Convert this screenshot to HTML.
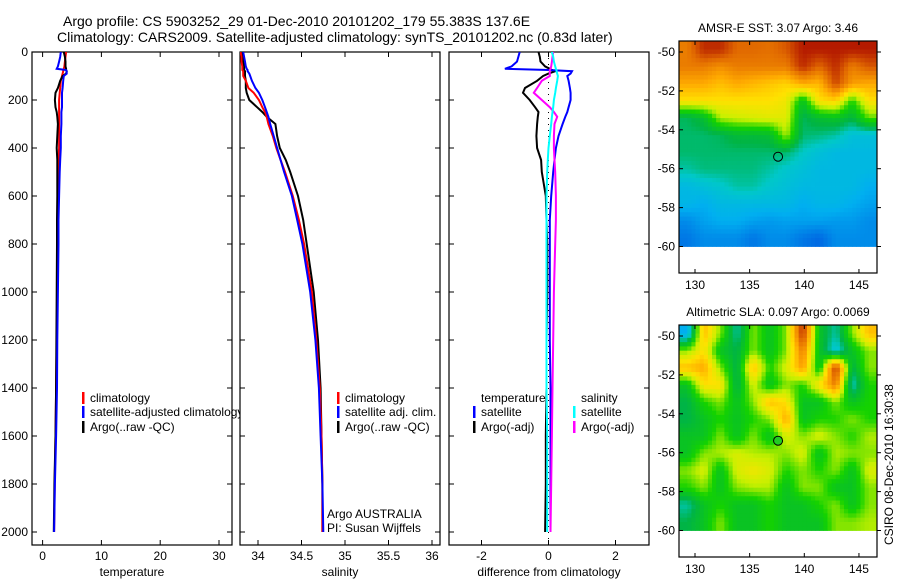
<!DOCTYPE html>
<html><head><meta charset="utf-8"><style>
html,body{margin:0;padding:0;background:#fff;}
svg{display:block;font-family:"Liberation Sans",sans-serif;}
text{font-size:12px;fill:#000;}
</style></head><body>
<svg id="c" width="900" height="580" viewBox="0 0 900 580" xmlns="http://www.w3.org/2000/svg">
<text x="63" y="26" style="font-size:14px">Argo profile: CS 5903252_29 01-Dec-2010 20101202_179 55.383S 137.6E</text>
<text x="57" y="42" style="font-size:14px">Climatology: CARS2009. Satellite-adjusted climatology: synTS_20101202.nc (0.83d later)</text>
</svg>
<script>
// ---- data ----
const depths=[0,20,40,60,70,75,80,90,100,120,150,170,200,230,250,270,300,350,400,450,500,600,700,800,1000,1200,1400,1600,1800,2000];
const tempClim=[4.0,3.9,3.8,3.7,3.6,3.5,3.5,3.4,3.3,3.1,3.0,2.9,2.8,2.8,2.8,2.8,2.8,2.8,2.8,2.7,2.7,2.6,2.6,2.6,2.5,2.4,2.3,2.2,2.05,1.95];
const tempSat=[3.1,3.0,2.8,2.6,2.4,4.0,4.1,4.1,3.6,3.5,3.4,3.3,3.3,3.3,3.2,3.2,3.2,3.1,3.1,3.0,2.9,2.8,2.7,2.7,2.6,2.5,2.45,2.3,2.1,1.95];
const tempArgo=[3.6,3.8,3.9,3.9,4.0,4.0,4.1,4.0,3.4,3.0,2.6,2.2,2.1,2.2,2.4,2.5,2.6,2.5,2.4,2.5,2.5,2.5,2.45,2.45,2.4,2.35,2.3,2.2,2.0,1.9];
const salClim=[33.80,33.81,33.81,33.82,33.82,33.82,33.83,33.83,33.83,33.86,33.89,33.95,34.01,34.05,34.08,34.10,34.12,34.17,34.21,34.26,34.31,34.40,34.47,34.53,34.62,34.67,34.71,34.73,34.74,34.74];
const salSat=[33.83,33.84,33.85,33.86,33.87,33.88,33.88,33.90,33.91,33.93,33.97,34.01,34.05,34.08,34.10,34.12,34.14,34.18,34.22,34.26,34.30,34.39,34.45,34.51,34.60,34.66,34.70,34.72,34.74,34.75];
const salArgo=[33.82,33.83,33.83,33.84,33.84,33.84,33.85,33.85,33.85,33.86,33.86,33.87,33.90,33.99,34.05,34.10,34.20,34.22,34.25,34.32,34.37,34.46,34.52,34.56,34.64,34.69,34.72,34.73,34.74,34.74];
const diffTempSat=[-0.86,-0.9,-0.94,-1.1,-1.3,0.0,0.7,0.66,0.56,0.6,0.64,0.66,0.66,0.6,0.56,0.5,0.42,0.3,0.22,0.18,0.14,0.08,0.04,0.04,0.04,0.04,0.06,0.06,0.06,0.06];
const diffTempArgo=[-0.3,-0.26,-0.24,-0.1,0.04,0.1,0.2,0.0,-0.16,-0.34,-0.7,-0.76,-0.56,-0.4,-0.3,-0.32,-0.34,-0.36,-0.34,-0.22,-0.2,-0.08,-0.06,-0.04,-0.04,-0.06,-0.06,-0.08,-0.08,-0.1];
const diffSalSat=[0.1,0.14,0.16,0.2,0.22,0.24,0.24,0.26,0.28,0.26,0.22,0.2,0.16,0.14,0.12,0.1,0.08,0.04,0.0,-0.02,-0.04,-0.06,-0.06,-0.06,-0.06,-0.06,-0.06,-0.04,-0.04,-0.04];
const diffSalArgo=[0.14,0.12,0.1,0.08,0.06,0.04,0.04,0.04,0.04,-0.2,-0.34,-0.44,-0.2,0.04,0.16,0.26,0.18,0.16,0.16,0.18,0.2,0.22,0.22,0.2,0.16,0.14,0.12,0.1,0.08,0.06];
const depthTicks=[0,200,400,600,800,1000,1200,1400,1600,1800,2000];
const tempTicks=[0,10,20,30];
const salTicks=[34,34.5,35,35.5,36];
const salTickLabels=["34","34.5","35","35.5","36"];
const diffTicks=[-2,0,2];
const lonTicks=[130,135,140,145];
const latTicks=[-50,-52,-54,-56,-58,-60];
const sstGrid=[
[0.85,0.95,0.95,0.88,0.88,0.87,0.9,0.97,0.97,0.97,0.97,0.97],
[0.85,0.85,0.82,0.85,0.85,0.85,0.85,0.95,0.88,0.95,0.85,0.9],
[0.78,0.78,0.75,0.78,0.76,0.74,0.72,0.78,0.76,0.92,0.8,0.78],
[0.7,0.7,0.7,0.7,0.7,0.7,0.68,0.5,0.7,0.72,0.55,0.7],
[0.44,0.48,0.62,0.64,0.65,0.66,0.66,0.44,0.48,0.5,0.46,0.58],
[0.43,0.43,0.44,0.47,0.47,0.48,0.62,0.43,0.42,0.4,0.35,0.35],
[0.43,0.43,0.43,0.43,0.43,0.43,0.43,0.38,0.35,0.33,0.33,0.33],
[0.4,0.42,0.42,0.42,0.42,0.4,0.37,0.35,0.33,0.33,0.33,0.33],
[0.33,0.35,0.37,0.4,0.4,0.37,0.35,0.33,0.33,0.33,0.33,0.3],
[0.32,0.3,0.33,0.33,0.33,0.33,0.33,0.3,0.32,0.32,0.3,0.28],
[0.25,0.28,0.3,0.3,0.28,0.27,0.28,0.28,0.28,0.27,0.27,0.25],
[0.22,0.25,0.25,0.25,0.22,0.25,0.25,0.22,0.2,0.25,0.25,0.25]];
const slaGrid=[
[0.3,0.75,0.6,0.4,0.6,0.5,0.6,0.95,0.5,0.4,0.6,0.75],
[0.6,0.7,0.5,0.45,0.6,0.5,0.6,0.85,0.5,0.35,0.5,0.6],
[0.75,0.78,0.6,0.45,0.75,0.55,0.65,0.8,0.5,0.95,0.45,0.6],
[0.5,0.7,0.7,0.45,0.65,0.5,0.6,0.55,0.7,0.85,0.38,0.55],
[0.45,0.55,0.6,0.5,0.6,0.75,0.7,0.5,0.5,0.6,0.5,0.55],
[0.45,0.5,0.55,0.5,0.55,0.6,0.78,0.5,0.55,0.55,0.6,0.55],
[0.5,0.5,0.6,0.5,0.6,0.5,0.65,0.6,0.65,0.6,0.55,0.62],
[0.5,0.6,0.62,0.65,0.62,0.62,0.6,0.65,0.5,0.62,0.6,0.6],
[0.6,0.65,0.5,0.65,0.68,0.65,0.55,0.6,0.55,0.6,0.5,0.65],
[0.55,0.6,0.5,0.6,0.62,0.62,0.5,0.6,0.6,0.5,0.5,0.6],
[0.4,0.5,0.55,0.5,0.5,0.55,0.5,0.5,0.55,0.6,0.5,0.6],
[0.45,0.5,0.6,0.5,0.5,0.55,0.5,0.5,0.5,0.6,0.6,0.62]];
const argoLon=137.6, argoLat=-55.383;

// ---- helpers ----
const NS="http://www.w3.org/2000/svg";
const svg=document.getElementById('c');
function mk(tag,attrs,parent){const e=document.createElementNS(NS,tag);for(const k in attrs)e.setAttribute(k,attrs[k]);(parent||svg).appendChild(e);return e;}
const yD=d=>52+d*0.24;
const xT=v=>42.6+v*5.88;
const xS=v=>258+(v-34)*87;
const xDf=v=>548.5+v*33.5;

function panel(name,x0,x1,xs,ticks,labels,xlabel,showY){
  const g=mk('g',{});
  
  
  const r=mk('rect',{x:x0,y:52,width:x1-x0,height:493,fill:'#fff',stroke:'#000','stroke-width':1.2},g);
  
  
  ticks.forEach((t,i)=>{
    const x=xs(t);
    mk('line',{x1:x,x2:x,y1:52,y2:57,stroke:'#000'},g);
    mk('line',{x1:x,x2:x,y1:545,y2:540,stroke:'#000'},g);
    const tx=mk('text',{x:x,y:560,'text-anchor':'middle'},g);tx.textContent=labels[i];
    
    
  });
  depthTicks.forEach(d=>{
    const y=yD(d);
    mk('line',{x1:x0,x2:x0+5,y1:y,y2:y,stroke:'#000'},g);
    mk('line',{x1:x1,x2:x1-5,y1:y,y2:y,stroke:'#000'},g);
    if(showY){const t=mk('text',{x:x0-4,y:y+4,'text-anchor':'end'},g);t.textContent=d;
      
      }
  });
  const xl=mk('text',{x:(x0+x1)/2,y:576,'text-anchor':'middle'},g);xl.textContent=xlabel;
  
  
  return g;
}
function line(vals,xs,color,name,w,clipId){
  const pts=vals.map((v,i)=>xs(v).toFixed(1)+','+yD(depths[i]).toFixed(1)).join(' ');
  const p=mk('polyline',{points:pts,fill:'none',stroke:color,'stroke-width':w||2,'clip-path':'url(#'+clipId+')'});
  
  
}
function legend(x,y,color,label,name){
  const g=mk('g',{});
  
  
  if(color)mk('rect',{x:x,y:y-10,width:2.5,height:12,fill:color},g);
  const t=mk('text',{x:x+8,y:y},g);t.textContent=label;
}
const defs=mk('defs',{});
[['clip1',32,232],['clip2',240,440],['clip3',449,649]].forEach(c=>{
  const cp=mk('clipPath',{id:c[0]},defs);mk('rect',{x:c[1],y:52,width:c[2]-c[1],height:493},cp);});

// panel 1
panel('temperature-panel',32,232,xT,tempTicks,tempTicks.map(String),'temperature',true);
line(tempClim,xT,'#f00','temp-climatology-line',2,'clip1');
line(tempArgo,xT,'#000','temp-argo-line',2,'clip1');
line(tempSat,xT,'#00f','temp-satellite-line',2,'clip1');
legend(82,402,'#f00','climatology','legend-climatology');
legend(82,416,'#00f','satellite-adjusted climatology','legend-satellite-adjusted');
legend(82,431,'#000','Argo(..raw -QC)','legend-argo');
// panel 2
panel('salinity-panel',240,440,xS,salTicks,salTickLabels,'salinity',false);
line(salArgo,xS,'#000','sal-argo-line',2,'clip2');
line(salClim,xS,'#f00','sal-climatology-line',2,'clip2');
line(salSat,xS,'#00f','sal-satellite-line',2,'clip2');
legend(337,402,'#f00','climatology','legend-sal-climatology');
legend(337,416,'#00f','satellite adj. clim.','legend-sal-satellite');
legend(337,431,'#000','Argo(..raw -QC)','legend-sal-argo');
const a1=mk('text',{x:327,y:518});a1.textContent='Argo AUSTRALIA';


const a2=mk('text',{x:327,y:532});a2.textContent='PI: Susan Wijffels';


// panel 3
panel('difference-panel',449,649,xDf,diffTicks,diffTicks.map(String),'difference from climatology',false);
const zl=mk('line',{x1:xDf(0),x2:xDf(0),y1:52,y2:545,stroke:'#000','stroke-dasharray':'1 5'});


line(diffTempArgo,xDf,'#000','diff-temp-argo-line',2,'clip3');
line(diffTempSat,xDf,'#00f','diff-temp-satellite-line',2,'clip3');
line(diffSalArgo,xDf,'#f0f','diff-sal-argo-line',2,'clip3');
line(diffSalSat,xDf,'#0ff','diff-sal-satellite-line',2,'clip3');
legend(473,402,null,'temperature','legend-temperature-header');
legend(473,416,'#00f','satellite','legend-diff-temp-satellite');
legend(473,431,'#000','Argo(-adj)','legend-diff-temp-argo');
legend(573,402,null,'salinity','legend-salinity-header');
legend(573,416,'#0ff','satellite','legend-diff-sal-satellite');
legend(573,431,'#f0f','Argo(-adj)','legend-diff-sal-argo');

// maps
const stops=[[0,[0,0,150]],[0.15,[0,70,220]],[0.3,[0,175,240]],[0.38,[0,200,200]],[0.45,[0,180,70]],[0.55,[20,210,0]],[0.63,[200,240,0]],[0.7,[255,225,0]],[0.78,[255,170,0]],[0.88,[225,105,0]],[1,[165,0,0]]];
function cmap(v){for(let i=1;i<stops.length;i++){if(v<=stops[i][0]){const a=stops[i-1],b=stops[i],t=(v-a[0])/(b[0]-a[0]);return 'rgb('+a[1].map((c,k)=>Math.round(c+(b[1][k]-c)*t)).join(',')+')';}}return 'rgb(165,0,0)';}
function sample(grid,fr,fc){
  const nr=grid.length,nc=grid[0].length;
  const r=Math.min(Math.max(fr-0.5,0),nr-1),c=Math.min(Math.max(fc-0.5,0),nc-1);
  const r0=Math.floor(r),c0=Math.floor(c),r1=Math.min(r0+1,nr-1),c1=Math.min(c0+1,nc-1);
  const tr=r-r0,tc=c-c0;
  return grid[r0][c0]*(1-tr)*(1-tc)+grid[r0][c1]*(1-tr)*tc+grid[r1][c0]*tr*(1-tc)+grid[r1][c1]*tr*tc;
}
function map(name,top,lat50,grid,title,titleY,fillMarker){
  const xL=lon=>695+(lon-130)*10.93;
  const yL=lat=>lat50+(-50-lat)*19.45;
  const g=mk('g',{});
  
  
  const left=679,right=877,bottom=top+232;
  const lonMin=128.54,lonMax=146.65;
  const latTop=-50+(lat50-top)/19.45,latBot=-60;
  const S=4;
  const nr=grid.length*S,nc=grid[0].length*S;
  const dLon=(lonMax-lonMin)/nc,dLat=(latTop-latBot)/nr;
  for(let r=0;r<nr;r++)for(let c=0;c<nc;c++){
    const v=sample(grid,(r+0.5)/S,(c+0.5)/S);
    const x=xL(lonMin+c*dLon),y=yL(latTop-r*dLat);
    const cell=mk('rect',{x:x.toFixed(2),y:y.toFixed(2),width:(xL(lonMin+(c+1)*dLon)-x+0.4).toFixed(2),height:(yL(latTop-(r+1)*dLat)-y+0.4).toFixed(2),fill:cmap(v)},g);
    
    
  }
  const fr=mk('rect',{x:left,y:top,width:right-left,height:bottom-top,fill:'none',stroke:'#000','stroke-width':1.2},g);
  
  
  lonTicks.forEach(l=>{const x=xL(l);
    mk('line',{x1:x,x2:x,y1:top,y2:top+4,stroke:'#000'},g);
    mk('line',{x1:x,x2:x,y1:bottom,y2:bottom-4,stroke:'#000'},g);
    const t=mk('text',{x:x,y:bottom+16,'text-anchor':'middle'},g);t.textContent=l;
    
    });
  latTicks.forEach(l=>{const y=yL(l);
    mk('line',{x1:left,x2:left+4,y1:y,y2:y,stroke:'#000'},g);
    mk('line',{x1:right,x2:right+4,y1:y,y2:y,stroke:'#000'},g);
    const t=mk('text',{x:left-4,y:y+4,'text-anchor':'end'},g);t.textContent=l;
    
    });
  const m=mk('circle',{cx:xL(argoLon),cy:yL(argoLat),r:4.5,fill:fillMarker,stroke:'#000','stroke-width':1},g);
  
  
  const tt=mk('text',{x:(left+right)/2,y:titleY,'text-anchor':'middle'},g);tt.textContent=title;
  
  
}
map('sst-map',41,52,sstGrid,'AMSR-E SST: 3.07 Argo: 3.46',32,'none');
map('sla-map',325,336,slaGrid,'Altimetric SLA: 0.097 Argo: 0.0069',316,'#2c2');
const cs=mk('text',{x:0,y:0,transform:'translate(893,545) rotate(-90)'});cs.textContent='CSIRO 08-Dec-2010 16:30:38';


</script>
</body></html>
